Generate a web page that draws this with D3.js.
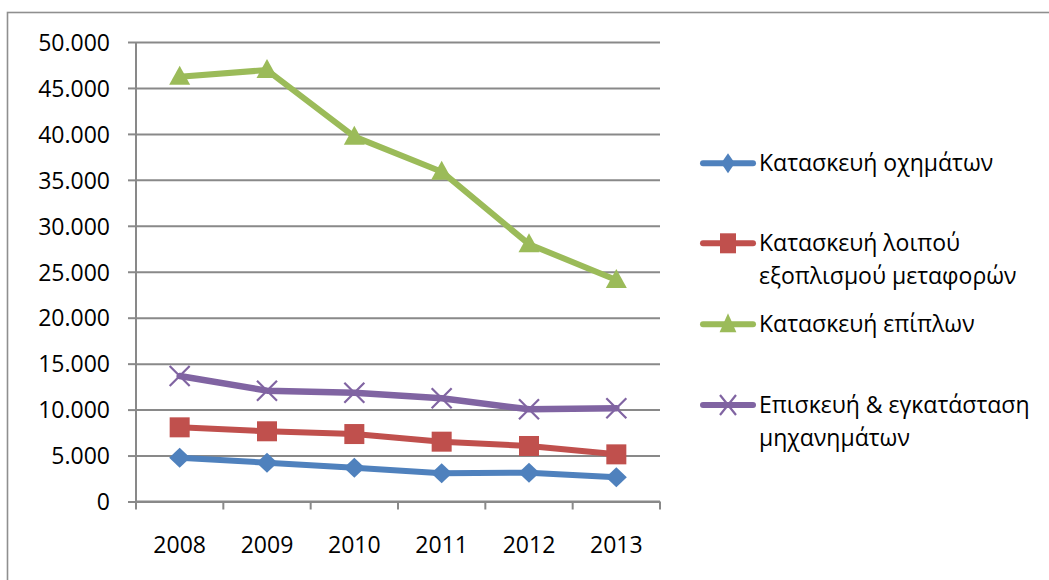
<!DOCTYPE html>
<html>
<head>
<meta charset="utf-8">
<script src="https://cdn.jsdelivr.net/npm/d3@7"></script>
<style>
  html, body { margin: 0; padding: 0; background: #fff; }
  svg { display: block; }
  text { font-family: "Open Sans", "Noto Sans", sans-serif; fill: #000; }
</style>
</head>
<body>
<svg id="chart" width="1049" height="580"></svg>
<script>
// ---- data ----
const years = ["2008", "2009", "2010", "2011", "2012", "2013"];
const seriesNames = [
  ["Κατασκευή οχημάτων"],
  ["Κατασκευή λοιπού", "εξοπλισμού μεταφορών"],
  ["Κατασκευή επίπλων"],
  ["Επισκευή & εγκατάσταση", "μηχανημάτων"]
];
const vehicles   = [4770, 4220, 3680, 3070, 3140, 2630];
const transport  = [8070, 7640, 7340, 6510, 6040, 5130];
const furniture  = [46220, 46950, 39700, 35890, 28000, 24100];
const machinery  = [13650, 12060, 11840, 11230, 10030, 10140];
const yTicks = [0, 5000, 10000, 15000, 20000, 25000, 30000, 35000, 40000, 45000, 50000];

const colors = ["#4F81BD", "#C0504D", "#9BBB59", "#8064A2"];
const markers = ["diamond", "square", "triangle", "x"];
const values = [vehicles, transport, furniture, machinery];

// ---- layout ----
const svg = d3.select("#chart");
const pLeft = 136, pRight = 660, pTop = 42, pBottom = 501.5;
const gridColor = "#898989";

svg.append("rect").attr("width", 1049).attr("height", 580).attr("fill", "#fff");
svg.append("rect")
  .attr("x", 7.5).attr("y", 12.5).attr("width", 1100).attr("height", 640)
  .attr("fill", "none").attr("stroke", "#8f8f8f").attr("stroke-width", 1.6);

const x = d3.scaleBand().domain(years).range([pLeft, pRight]);
const y = d3.scaleLinear().domain([0, 50000]).range([pBottom, pTop]);

const loc = d3.formatLocale({decimal: ",", thousands: ".", grouping: [3], currency: ["", "€"]});
const fmt = loc.format(",d");

// gridlines
const grid = svg.append("g").attr("transform", `translate(${pLeft},0)`)
  .call(d3.axisLeft(y).tickValues(yTicks).tickSize(-(pRight - pLeft)).tickFormat(""));
grid.select(".domain").remove();
grid.selectAll("line").attr("stroke", gridColor).attr("stroke-width", 2);

// y axis
const yAxis = svg.append("g").attr("transform", `translate(${pLeft},0)`)
  .call(d3.axisLeft(y).tickValues(yTicks).tickSize(8).tickPadding(18).tickFormat(fmt));
yAxis.select(".domain").attr("stroke", gridColor).attr("stroke-width", 2)
  .attr("d", `M0,${pTop}V${pBottom}`);
yAxis.selectAll("line").attr("stroke", gridColor).attr("stroke-width", 2);
yAxis.selectAll("text").attr("font-size", 23).attr("dy", "0.36em")
  .style("font-family", '"Open Sans", sans-serif').attr("fill", "#000");

// x axis
const xAxis = svg.append("g").attr("transform", `translate(0,${pBottom})`)
  .call(d3.axisBottom(x).tickSize(0).tickPadding(43));
xAxis.select(".domain").attr("stroke", gridColor).attr("stroke-width", 2)
  .attr("d", `M${pLeft},0H${pRight}`);
xAxis.selectAll("text").attr("font-size", 23).attr("dy", "0.36em")
  .style("font-family", '"Open Sans", sans-serif').attr("fill", "#000");
const bounds = years.map(d => x(d)).concat([pRight]);
xAxis.selectAll(".bnd").data(bounds).enter().append("line")
  .attr("x1", d => d).attr("x2", d => d).attr("y1", 0).attr("y2", 8)
  .attr("stroke", gridColor).attr("stroke-width", 2);

// marker drawing
function drawMarker(g, type, color, cx, cy, sx) {
  sx = sx || 1;
  if (type === "diamond") {
    const w = 10.5 * sx, h = 10;
    g.append("path").attr("d", `M${cx},${cy - h}L${cx + w},${cy}L${cx},${cy + h}L${cx - w},${cy}Z`)
      .attr("fill", color);
  } else if (type === "square") {
    const s = 10 * Math.min(1, sx + 0.15);
    g.append("rect").attr("x", cx - s).attr("y", cy - 10).attr("width", 2 * s).attr("height", 20)
      .attr("fill", color);
  } else if (type === "triangle") {
    const w = 10.5 * Math.min(1, sx + 0.15);
    g.append("path").attr("d", `M${cx},${cy - 11}L${cx + w},${cy + 8}L${cx - w},${cy + 8}Z`)
      .attr("fill", color);
  } else if (type === "x") {
    const w = 10 * Math.min(1, sx + 0.15), h = 10;
    g.append("path").attr("d", `M${cx - w},${cy - h}L${cx + w},${cy + h}M${cx - w},${cy + h}L${cx + w},${cy - h}`)
      .attr("stroke", color).attr("stroke-width", 2.2).attr("fill", "none");
  }
}

// series
const line = d3.line().x((d, i) => x(years[i]) + x.bandwidth() / 2).y(d => y(d));
values.forEach((vals, si) => {
  const g = svg.append("g");
  g.append("path").datum(vals).attr("d", line)
    .attr("fill", "none").attr("stroke", colors[si])
    .attr("stroke-width", si === 3 ? 6.5 : 6)
    .attr("stroke-linejoin", "round").attr("stroke-linecap", "round");
  vals.forEach((v, i) => drawMarker(g, markers[si], colors[si], x(years[i]) + x.bandwidth() / 2, y(v)));
});

// legend
const legendY = [163.3, 243.3, 324.3, 405];
const lg = svg.append("g");
seriesNames.forEach((lines, si) => {
  const cy = legendY[si];
  lg.append("line").attr("x1", 703).attr("x2", 753).attr("y1", cy).attr("y2", cy)
    .attr("stroke", colors[si]).attr("stroke-width", 6).attr("stroke-linecap", "round");
  drawMarker(lg, markers[si], colors[si], 728, cy, 0.65);
  const t = lg.append("text").attr("x", 759).attr("y", cy + 8).attr("font-size", 23);
  lines.forEach((s, li) => {
    t.append("tspan").attr("x", 759).attr("dy", li === 0 ? 0 : 32.5).text(s);
  });
});
</script>
</body>
</html>
